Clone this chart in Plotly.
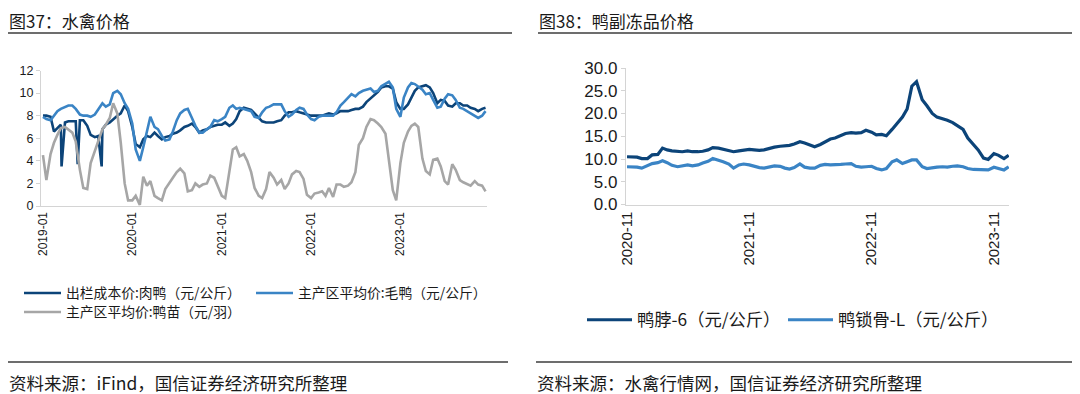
import pandas as pd
import plotly.graph_objects as go

# ---------------- Left chart: 水禽价格 (semi-monthly, 2019-01 .. 2023-12) ----------------
left_start = "2019-01-01"
left_n = 120

cost_meat_duck = [
    8.0, 8.0, 7.9, 6.6, 6.9, 7.2, 7.4, 7.5, 7.5, 7.5, 7.6, 7.6, 7.1, 6.3, 6.1, 6.2,
    6.8, 7.2, 7.4, 7.7, 8.0, 8.2, 8.9, 8.4, 7.0, 5.5, 5.2, 5.9, 6.2, 6.1, 6.5, 6.2,
    5.9, 6.1, 6.2, 6.4, 6.5, 6.7, 7.0, 7.1, 7.3, 7.0, 6.5, 6.7, 6.8, 7.0, 7.1, 7.2,
    7.2, 7.4, 7.1, 7.3, 7.7, 8.4, 8.7, 8.6, 8.5, 8.2, 7.8, 7.5, 7.4, 7.4, 7.4, 7.5,
    7.6, 8.0, 8.3, 8.3, 8.4, 8.3, 8.2, 8.1, 8.0, 8.0, 8.0, 8.0, 8.1, 8.2, 8.1, 8.2,
    8.4, 8.4, 8.4, 8.5, 8.6, 8.6, 8.8, 9.2, 9.5, 9.8, 10.1, 10.5, 10.6, 10.6, 10.4, 9.2,
    8.6, 8.6, 9.0, 9.6, 10.2, 10.5, 10.6, 10.7, 10.5, 10.0, 9.1, 9.4, 9.3, 8.9, 8.8, 9.1,
    9.1, 8.9, 8.9, 8.7, 8.6, 8.4, 8.6, 8.7,
]
# short one-off dips of the cost series
cost_dip_dates = ["2019-03-18", "2019-05-23", "2019-08-29"]
cost_dip_values = [3.5, 3.7, 3.5]

live_duck_price = [
    7.9, 7.7, 7.6, 8.0, 8.4, 8.6, 8.8, 8.9, 8.9, 8.6, 8.1, 8.0, 8.0, 7.9, 8.1, 8.6,
    9.1, 8.8, 9.0, 10.0, 10.2, 9.9, 9.1, 8.6, 7.3, 5.0, 4.0, 5.2, 6.6, 7.9, 7.0, 6.8,
    6.2, 5.8, 5.9, 6.6, 7.6, 8.2, 8.5, 8.6, 7.8, 7.1, 6.5, 6.5, 6.8, 7.0, 7.6, 7.5,
    7.7, 7.9, 8.7, 8.9, 8.6, 8.7, 8.6, 8.5, 8.4, 7.9, 7.8, 8.3, 8.7, 8.8, 9.0, 9.0,
    9.0, 8.4, 7.9, 8.1, 8.5, 8.7, 8.6, 8.1, 7.7, 7.6, 7.9, 8.0, 8.0, 8.0, 8.0, 8.3,
    8.9, 9.2, 9.6, 9.9, 9.7, 10.0, 10.2, 10.3, 10.4, 10.1, 10.2, 10.6, 10.8, 11.0, 10.5, 8.6,
    7.9, 9.6, 10.5, 10.9, 10.8, 10.6, 10.3, 9.9, 10.0, 9.4, 8.7, 8.8, 9.5, 9.9, 9.8, 9.4,
    8.7, 8.6, 8.4, 8.2, 8.0, 7.8, 8.0, 8.4,
]

duckling_price = [
    4.5, 2.3, 4.6, 5.6, 6.3, 6.9, 7.0, 6.8, 6.5, 5.7, 3.2, 1.6, 1.5, 3.8, 4.9, 5.8,
    6.8, 7.2, 7.8, 9.1, 8.2, 5.6, 2.0, 0.5, 0.5, 0.9, 0.1, 2.6, 1.8, 2.2, 0.9, 0.7,
    0.5, 1.5, 2.0, 2.5, 3.0, 3.3, 2.9, 1.3, 1.4, 2.0, 1.7, 1.9, 2.0, 2.7, 2.5, 1.8,
    0.9, 0.7, 3.2, 5.0, 5.2, 4.4, 4.6, 4.0, 3.0, 1.6, 0.9, 0.7, 1.5, 3.0, 2.5, 1.9,
    2.3, 1.5, 2.0, 2.8, 3.1, 3.0, 2.4, 1.0, 0.7, 1.1, 1.2, 1.3, 0.9, 1.6, 0.8, 1.9,
    1.9, 1.7, 1.8, 2.1, 3.0, 5.4, 6.0, 7.0, 7.7, 7.6, 7.3, 7.0, 6.4, 4.0, 1.4, 0.5,
    3.8, 5.6, 6.6, 7.1, 7.3, 7.0, 4.2, 3.1, 2.8, 4.1, 4.2, 3.5, 2.2, 1.9, 3.7, 3.2,
    2.3, 2.1, 1.9, 1.8, 2.2, 1.9, 1.8, 1.3,
]

left_ticks = ["2019-01-01", "2020-01-01", "2021-01-01", "2022-01-01", "2023-01-01"]
left_tick_text = ["2019-01", "2020-01", "2021-01", "2022-01", "2023-01"]

# ---------------- Right chart: 鸭副冻品价格 (semi-monthly, 2020-11 .. 2023-12) ----------------
right_start = "2020-11-01"
right_n = 76

duck_neck = [
    10.5, 10.5, 10.4, 10.1, 10.1, 10.9, 11.0, 12.4, 12.0, 11.8, 11.7, 11.6, 11.8, 11.6, 11.6, 11.7,
    12.0, 12.5, 12.4, 12.2, 11.9, 11.6, 11.8, 12.0, 12.1, 12.0, 11.9, 12.0, 12.4, 12.6, 12.8, 12.9,
    13.0, 13.3, 13.8, 13.5, 13.0, 12.7, 13.2, 13.8, 14.4, 14.6, 15.2, 15.6, 15.8, 15.7, 15.8, 16.3,
    15.9, 15.3, 15.4, 15.1, 16.5, 17.8, 19.2, 21.0, 26.0, 27.0, 23.0, 21.7, 20.0, 19.2, 18.9, 18.5,
    18.0, 17.4, 16.5, 14.6, 13.2, 12.0, 10.2, 9.9, 11.2, 10.8, 10.1, 10.8,
]
duck_clavicle = [
    8.3, 8.3, 8.2, 8.0, 8.6, 9.0, 9.2, 9.6, 9.2, 8.6, 8.3, 8.5, 8.7, 8.5, 8.7, 9.1,
    9.5, 10.1, 9.8, 9.4, 8.9, 8.0, 8.7, 8.9, 8.7, 8.4, 8.1, 8.0, 8.3, 8.5, 8.4, 8.0,
    7.8, 8.1, 8.9, 8.2, 8.0, 8.0, 8.6, 8.8, 8.7, 8.7, 8.8, 8.9, 9.0, 8.4, 8.2, 8.3,
    8.4, 7.9, 7.6, 7.9, 9.4, 9.8, 9.0, 9.4, 9.8, 9.8, 8.3, 7.9, 8.1, 8.2, 8.3, 8.2,
    8.4, 8.5, 8.3, 7.9, 7.7, 7.7, 7.7, 7.6, 8.2, 8.0, 7.6, 8.3,
]
right_ticks = ["2020-11-01", "2021-11-01", "2022-11-01", "2023-11-01"]
right_tick_text = ["2020-11", "2021-11", "2022-11", "2023-11"]

# ---------------- build ----------------
# the page body adds an 8 px margin, so the figure is drawn 8 px in from the window corner
OFF = 8
W, H = 1080 - OFF, 394 - OFF
DARK = "#0c4479"
LIGHT = "#3a84c5"
GRAY = "#a6a6a6"
AXIS = "#d4d4d4"
TXT = "#1a1a1a"
CJK = "Noto Sans CJK SC"

left_dates = pd.date_range(left_start, periods=left_n, freq="SMS")
right_dates = pd.date_range(right_start, periods=right_n, freq="SMS")

cost = pd.concat([
    pd.Series(cost_meat_duck, index=left_dates),
    pd.Series(cost_dip_values, index=pd.to_datetime(cost_dip_dates)),
]).sort_index()


def px_x(p):
    return (p - OFF) / W


def px_y(p):
    return 1 - (p - OFF) / H


fig = go.Figure()
fig.add_trace(go.Scatter(x=cost.index, y=cost.values, mode="lines",
                         name="出栏成本价:肉鸭（元/公斤）",
                         line=dict(color=DARK, width=2.6), xaxis="x", yaxis="y", legend="legend"))
fig.add_trace(go.Scatter(x=left_dates, y=live_duck_price, mode="lines",
                         name="主产区平均价:毛鸭（元/公斤）",
                         line=dict(color=LIGHT, width=2.6), xaxis="x", yaxis="y", legend="legend4"))
fig.add_trace(go.Scatter(x=left_dates, y=duckling_price, mode="lines",
                         name="主产区平均价:鸭苗（元/羽）",
                         line=dict(color=GRAY, width=2.6), xaxis="x", yaxis="y", legend="legend3"))
fig.add_trace(go.Scatter(x=right_dates, y=duck_neck, mode="lines",
                         name="鸭脖-6（元/公斤）",
                         line=dict(color=DARK, width=3.2), xaxis="x2", yaxis="y2", legend="legend2"))
fig.add_trace(go.Scatter(x=right_dates, y=duck_clavicle, mode="lines",
                         name="鸭锁骨-L（元/公斤）",
                         line=dict(color=LIGHT, width=3.2), xaxis="x2", yaxis="y2", legend="legend5"))

xaxis_common = dict(showgrid=False, zeroline=False, showline=True, linecolor=AXIS, linewidth=1.3, ticks="")
yaxis_common = dict(showgrid=False, zeroline=False, showline=True, linecolor=AXIS, linewidth=1.3,
                    ticks="outside", tickcolor=AXIS, ticklen=4)


def leg(x, y, size, iw):
    return dict(x=px_x(x), y=px_y(y), xanchor="left", yanchor="middle", orientation="h",
                itemwidth=iw, font=dict(family=CJK, size=size, color=TXT), bgcolor="rgba(0,0,0,0)")


fig.update_layout(
    width=W, height=H, autosize=False,
    margin=dict(l=0, r=0, t=0, b=0, pad=0, autoexpand=False),
    paper_bgcolor="white", plot_bgcolor="white",
    font=dict(family=f"Liberation Sans, Arial, {CJK}", color=TXT),
    xaxis=dict(domain=[px_x(41), px_x(487)], anchor="y", type="date",
               range=["2018-12-24", "2023-12-21"],
               tickvals=left_ticks, ticktext=left_tick_text, tickangle=-90,
               tickfont=dict(size=12, color=TXT), **xaxis_common),
    yaxis=dict(domain=[px_y(206), px_y(70.5)], anchor="x", range=[0, 12], dtick=2,
               tickfont=dict(size=12.5, color=TXT), **yaxis_common),
    xaxis2=dict(domain=[px_x(626), px_x(1009)], anchor="y2", type="date",
                range=["2020-10-29", "2023-12-16"],
                tickvals=right_ticks, ticktext=right_tick_text, tickangle=-90,
                tickfont=dict(size=15, color=TXT), **xaxis_common),
    yaxis2=dict(domain=[px_y(204.5), px_y(68)], anchor="x2", range=[0, 30], dtick=5,
                tickformat=".1f", tickfont=dict(size=17, color=TXT), **yaxis_common),
    showlegend=True,
    legend=leg(19, 293, 13.8, 37),
    legend4=leg(251, 293, 13.8, 37),
    legend3=leg(19, 312, 13.8, 37),
    legend2=leg(582, 320, 17.3, 45),
    legend5=leg(783, 320, 17.3, 45),
)

# titles, separators and sources
annos = [
    dict(text="图37：水禽价格", x=px_x(7), y=px_y(20.5)),
    dict(text="图38：鸭副冻品价格", x=px_x(537), y=px_y(20.5)),
]
for a in annos:
    fig.add_annotation(xref="paper", yref="paper", xanchor="left", yanchor="middle", showarrow=False,
                       font=dict(family=CJK, size=17, color=TXT), **a)
srcs = [
    dict(text="资料来源：iFind，国信证券经济研究所整理", x=px_x(7), y=px_y(382)),
    dict(text="资料来源：水禽行情网，国信证券经济研究所整理", x=px_x(535), y=px_y(382)),
]
for a in srcs:
    fig.add_annotation(xref="paper", yref="paper", xanchor="left", yanchor="middle", showarrow=False,
                       font=dict(family=CJK, size=17.5, color=TXT), **a)

for (x0, x1, yy) in [(8, 512, 33), (538, 1075, 33), (8, 508, 362), (536, 1075, 362)]:
    fig.add_shape(type="line", xref="paper", yref="paper", x0=px_x(x0), x1=px_x(x1),
                  y0=px_y(yy), y1=px_y(yy), line=dict(color="#3c3c3c", width=1.3))

fig.write_html("out.html")
